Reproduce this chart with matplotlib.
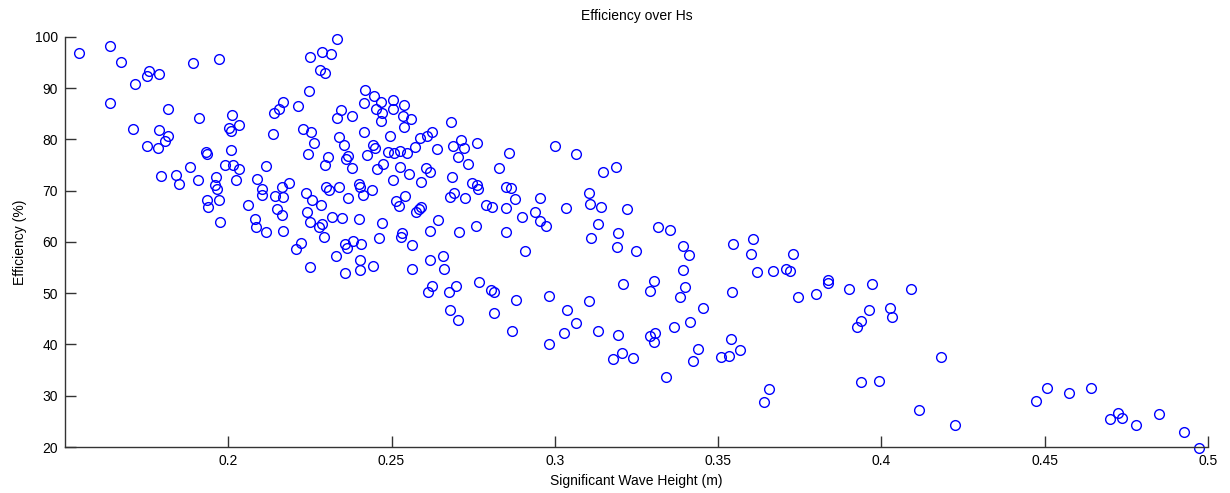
import matplotlib
matplotlib.use("Agg")
import matplotlib.pyplot as plt

# significant wave height (m) vs efficiency (%)
hs = [
    0.1544, 0.1638, 0.1672, 0.1758, 0.1751, 0.1788, 0.1713, 0.1891, 0.1972, 0.1638,
    0.1817, 0.1909, 0.1708, 0.1788, 0.1815, 0.1807, 0.1751, 0.1785, 0.1933, 0.1936,
    0.1884, 0.1795, 0.1839, 0.1850, 0.1908, 0.1962, 0.1960, 0.1965, 0.1934, 0.1938,
    0.1972, 0.1974,
    0.2332, 0.2249, 0.2287, 0.2315, 0.2280, 0.2296, 0.2248, 0.2418, 0.2167, 0.2156,
    0.2139, 0.2215, 0.2011, 0.2034, 0.2003, 0.2007, 0.2136, 0.2229, 0.2253, 0.2263,
    0.2244, 0.2344, 0.2332, 0.2379, 0.2415, 0.2415, 0.2339, 0.2354, 0.2007, 0.1991,
    0.2014, 0.2034, 0.2023, 0.2116, 0.2305, 0.2295, 0.2366, 0.2360, 0.2380, 0.2424,
    0.2088, 0.2103, 0.2104, 0.2165, 0.2187, 0.2142, 0.2167, 0.2062, 0.2150, 0.2165,
    0.2237, 0.2255, 0.2284, 0.2299, 0.2309, 0.2339, 0.2366, 0.2399, 0.2404, 0.2412,
    0.2241, 0.2251, 0.2287, 0.2278, 0.2294, 0.2317, 0.2347, 0.2401, 0.2082, 0.2085,
    0.2116, 0.2167, 0.2222, 0.2358, 0.2382, 0.2406, 0.2207, 0.2363, 0.2331, 0.2249,
    0.2358, 0.2402, 0.2402,
    0.2446, 0.2468, 0.2504, 0.2504, 0.2539, 0.2453, 0.2472, 0.2469, 0.2534, 0.2560,
    0.2537, 0.2683, 0.2494, 0.2442, 0.2450, 0.2489, 0.2509, 0.2525, 0.2547, 0.2572,
    0.2587, 0.2608, 0.2625, 0.2639, 0.2689, 0.2713, 0.2721, 0.2761, 0.2705, 0.2733,
    0.2859, 0.2828, 0.2475, 0.2457, 0.2526, 0.2552, 0.2605, 0.2618, 0.2504, 0.2591,
    0.2685, 0.2439, 0.2746, 0.2761, 0.2766, 0.2852, 0.2691, 0.2679, 0.2726, 0.2541,
    0.2514, 0.2524, 0.2589, 0.2583, 0.2575, 0.2642, 0.2788, 0.2809, 0.2850, 0.2471,
    0.2760, 0.2617, 0.2708, 0.2852, 0.2533, 0.2529, 0.2461, 0.2564,
    0.2442, 0.2562, 0.2617, 0.2657, 0.2661, 0.2625, 0.2613, 0.2676, 0.2698, 0.2768,
    0.2804, 0.2815, 0.2679, 0.2705, 0.2813, 0.2868,
    0.3000, 0.3065, 0.3149, 0.3186, 0.2867, 0.2877, 0.2956, 0.2938, 0.2901, 0.2955,
    0.2972, 0.3033, 0.3106, 0.3109, 0.3140, 0.3222, 0.3131, 0.3112, 0.3194, 0.3317,
    0.3190, 0.3248, 0.2908, 0.3208, 0.3304, 0.3292, 0.2880, 0.2982, 0.3036, 0.3106,
    0.3065, 0.3029, 0.2982, 0.3131, 0.3194, 0.3205, 0.3179, 0.3238, 0.3290, 0.3308,
    0.3303, 0.3339,
    0.3352, 0.3394, 0.3547, 0.3606, 0.3412, 0.3602, 0.3730, 0.3391, 0.3620, 0.3669,
    0.3708, 0.3720, 0.3836, 0.3837, 0.3972, 0.3901, 0.3799, 0.3745, 0.3398, 0.3383,
    0.3544, 0.3455, 0.3963, 0.3413, 0.3364, 0.3938, 0.3925, 0.3540, 0.3568, 0.3439,
    0.3533, 0.3510, 0.3423, 0.3657, 0.3642, 0.3938, 0.3993,
    0.4091, 0.4027, 0.4033, 0.4183, 0.4116, 0.4226, 0.4508, 0.4474, 0.4573, 0.4643,
    0.4726, 0.4700, 0.4738, 0.4781, 0.4850, 0.4927, 0.4971,
]

efficiency = [
    96.8, 98.2, 95.1, 93.4, 92.3, 92.7, 90.9, 94.9, 95.8, 87.2,
    86.0, 84.2, 82.1, 81.9, 80.7, 79.7, 78.7, 78.4, 77.5, 77.2,
    74.7, 72.8, 73.1, 71.4, 72.1, 72.7, 71.2, 70.4, 68.1, 66.9,
    68.1, 63.9,
    99.6, 96.1, 97.0, 96.6, 93.6, 93.0, 89.5, 89.6, 87.4, 85.9,
    85.1, 86.5, 84.8, 82.8, 82.2, 81.6, 81.1, 82.1, 81.4, 79.3,
    77.2, 85.7, 84.1, 84.6, 87.2, 81.4, 80.5, 79.0, 78.0, 75.1,
    75.1, 74.2, 72.0, 74.9, 76.6, 75.0, 76.7, 76.2, 74.4, 76.9,
    72.3, 70.3, 69.1, 70.8, 71.6, 68.9, 68.75, 67.3, 66.5, 65.3,
    69.5, 68.1, 67.2, 70.8, 70.1, 70.7, 68.6, 71.4, 70.8, 69.2,
    65.8, 63.9, 63.6, 62.9, 60.9, 64.8, 64.6, 64.4, 64.5, 62.9,
    61.9, 62.1, 59.8, 59.6, 60.2, 59.6, 58.7, 58.8, 57.2, 55.1,
    53.9, 56.4, 54.6,
    88.4, 87.3, 87.8, 85.9, 86.8, 85.9, 85.2, 83.7, 84.6, 83.9,
    82.5, 83.5, 80.7, 78.9, 78.4, 77.6, 77.4, 77.7, 77.3, 78.6,
    80.3, 80.6, 81.4, 78.1, 78.8, 79.9, 78.3, 79.3, 76.5, 75.3,
    77.3, 74.4, 75.3, 74.2, 74.7, 73.2, 74.5, 73.6, 72.0, 71.8,
    72.6, 70.2, 71.6, 71.2, 70.3, 70.7, 69.6, 68.75, 68.6, 68.9,
    67.9, 67.1, 66.9, 66.5, 65.9, 64.3, 67.3, 66.9, 66.7, 63.7,
    63.2, 62.1, 61.9, 61.9, 61.8, 61.0, 60.8, 59.5,
    55.3, 54.8, 56.4, 57.2, 54.8, 51.4, 50.3, 50.3, 51.4, 52.2,
    50.6, 50.3, 46.7, 44.8, 46.2, 42.7,
    78.8, 77.1, 73.7, 74.6, 70.5, 68.3, 68.6, 65.8, 64.8, 64.0,
    63.2, 66.7, 69.5, 67.4, 66.9, 66.5, 63.5, 60.7, 61.7, 63.0,
    59.1, 58.3, 58.3, 51.8, 52.4, 50.4, 48.7, 49.4, 46.8, 48.5,
    44.1, 42.3, 40.1, 42.7, 41.9, 38.3, 37.2, 37.4, 41.7, 42.3,
    40.4, 33.6,
    62.4, 59.3, 59.6, 60.6, 57.4, 57.6, 57.6, 54.6, 54.1, 54.3,
    54.8, 54.3, 52.6, 52.0, 51.8, 50.9, 49.9, 49.2, 51.3, 49.2,
    50.3, 47.1, 46.7, 44.3, 43.4, 44.5, 43.4, 41.0, 38.9, 39.2,
    37.8, 37.6, 36.7, 31.25, 28.7, 32.7, 32.9,
    50.8, 47.1, 45.4, 37.6, 27.3, 24.3, 31.5, 28.9, 30.5, 31.5,
    26.7, 25.5, 25.6, 24.3, 26.4, 22.9, 19.9,
]

x_ticks = [0.2, 0.25, 0.3, 0.35, 0.4, 0.45, 0.5]
x_tick_labels = ["0.2", "0.25", "0.3", "0.35", "0.4", "0.45", "0.5"]
y_ticks = [20, 30, 40, 50, 60, 70, 80, 90, 100]

plt.rcParams['font.family'] = ['Liberation Sans', 'DejaVu Sans']

fig = plt.figure(figsize=(12.3, 4.93), dpi=100)
ax = fig.add_axes([0.0528, 0.0933, 0.9293, 0.8317])

ax.plot(hs, efficiency, linestyle='none', marker='o', markersize=7,
        markerfacecolor='none', markeredgecolor='blue', markeredgewidth=1.0,
        clip_on=False)

ax.set_xlim(0.15, 0.5)
ax.set_ylim(20, 100)
ax.set_xticks(x_ticks)
ax.set_xticklabels(x_tick_labels)
ax.set_yticks(y_ticks)

# matlab look: box off, inward ticks
ax.spines['top'].set_visible(False)
ax.spines['right'].set_visible(False)
for side in ['left', 'bottom']:
    ax.spines[side].set_color('#333333')
    ax.spines[side].set_linewidth(1.0)
ax.tick_params(direction='in', length=8, width=1, colors='#333333',
               labelcolor='black', labelsize=10, pad=5)

ax.set_title("Efficiency over Hs", fontsize=10, pad=12)
ax.set_xlabel("Significant Wave Height (m)", fontsize=10, labelpad=4)
ax.set_ylabel("Efficiency (%)", fontsize=10, labelpad=6)

fig.savefig("out.png", dpi=100)
